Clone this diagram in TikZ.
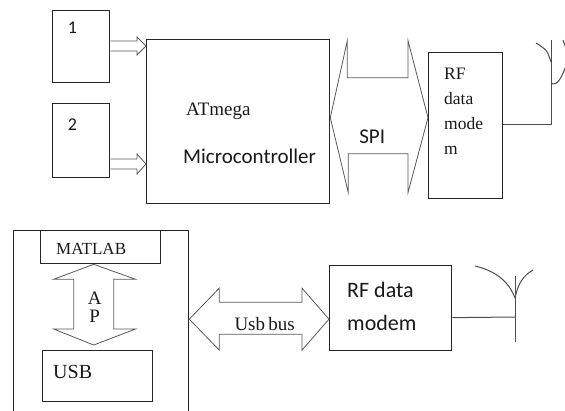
\documentclass[tikz,border=0pt]{standalone}
\usepackage{fontspec}
\setmainfont{Liberation Serif}
\newfontfamily\calibri{Carlito}
\usetikzlibrary{calc}
\tikzstyle{block} = [rectangle, draw=black!85, line width=1.3pt, anchor=north west, inner sep=0pt]
\tikzstyle{hollow} = [draw=black!65, line width=0.8pt, line join=miter]
\tikzstyle{wire} = [draw=black!70, line width=1pt]
\tikzstyle{txt} = [inner sep=0pt, text=black!90]

\begin{document}
\begin{tikzpicture}[x=1pt, y=-1pt]
	\clip (0,0) rectangle (565,410);

	% Upper board
	\node (in1) [block, minimum width=57pt, minimum height=72pt] at (52,10) {};
	\node (in2) [block, minimum width=57pt, minimum height=74pt] at (52,103) {};
	\node (micro) [block, minimum width=183pt, minimum height=164pt] at (146,39) {};
	\node (rf1) [block, minimum width=74pt, minimum height=146pt] at (428,52) {};

	\node (in1txt) [txt, anchor=base, font=\calibri\fontsize{18}{20}\selectfont] at (72.5,33) {1};
	\node (in2txt) [txt, anchor=base, font=\calibri\fontsize{18}{20}\selectfont] at (72.5,130) {2};
	\node (mcutxt) [txt, anchor=base west, font=\fontsize{19}{22}\selectfont] at (186,115) {ATmega};
	\node (mcutxt2) [txt, anchor=base west, font=\calibri\fontsize{21}{24}\selectfont] at (183,163) {Microcontroller};
	\node (rf1txt) [txt, anchor=north west, align=left, font=\fontsize{17.5}{25}\selectfont] at (444,68) {RF\\data\\mode\\m};

	% Input arrows
	\coordinate (a1s) at ([yshift=-36pt]in1.north east);
	\coordinate (a1t) at (micro.west |- a1s);
	\coordinate (a2s) at ([yshift=-61pt]in2.north east);
	\coordinate (a2t) at (micro.west |- a2s);
	\draw [hollow] ($(a1s)+(0,-5)$) -- ($(a1t)+(-9,-5)$) -- ($(a1t)+(-9,-9)$) -- (a1t) -- ($(a1t)+(-9,9)$) -- ($(a1t)+(-9,5)$) -- ($(a1s)+(0,5)$);
	\draw [hollow] ($(a2s)+(0,-5)$) -- ($(a2t)+(-9,-5)$) -- ($(a2t)+(-9,-10)$) -- (a2t) -- ($(a2t)+(-9,10)$) -- ($(a2t)+(-9,5)$) -- ($(a2s)+(0,5)$);

	% SPI
	\coordinate (spiL) at ([yshift=4pt]micro.east);
	\coordinate (spiR) at (rf1.west |- spiL);
	\draw [hollow] (spiL) -- ($(spiL)+(17,-77)$) -- ($(spiL)+(17,-40)$) -- ($(spiR)+(-20,-40)$) -- ($(spiR)+(-20,-77)$) -- (spiR) -- ($(spiR)+(-20,75)$) -- ($(spiR)+(-20,36)$) -- ($(spiL)+(18,36)$) -- ($(spiL)+(18,75)$) -- cycle;
	\node (spitxt) [txt, anchor=base, font=\calibri\fontsize{21}{24}\selectfont] at ($(spiL)!0.5!(spiR)+(-7,26)$) {SPI};

	% Antenna 1
	\coordinate (ant1) at (551,124);
	\draw [wire] (rf1.east |- ant1) -- (ant1) -- ++(0,-84);
	\draw [wire] (551,62) .. controls (547,50) .. (536,43);
	\draw [wire] (551,83) .. controls (557,87) and (562,78) .. (568,60);
	\draw [wire] (563,40) -- (567,51);

	% Lower board
	\node (pc) [block, minimum width=175pt, minimum height=190pt] at (13,230) {};
	\node (matlab) [block, minimum width=120pt, minimum height=33pt] at (40,230) {};
	\node (usb) [block, minimum width=110pt, minimum height=51pt] at (42,350) {};
	\node (rf2) [block, minimum width=122pt, minimum height=85pt] at (329,265) {};

	\node (mattxt) [txt, anchor=base west, font=\fontsize{17}{20}\selectfont] at (56,254) {MATLAB};
	\node (usbtxt) [txt, anchor=base west, font=\fontsize{20}{24}\selectfont] at (53,378) {USB};
	\node (rf2txt) [txt, anchor=north west, align=left, font=\calibri\fontsize{22}{33}\selectfont] at (347,282) {RF data\\modem};

	% AP
	\coordinate (apT) at ([xshift=-7pt]matlab.south);
	\coordinate (apB) at ($(apT |- usb.north)+(0,-5)$);
	\draw [hollow] (apT) -- ($(apT)+(42,15)$) -- ($(apT)+(20,15)$) -- ($(apB)+(20,-16)$) -- ($(apB)+(42,-16)$) -- (apB) -- ($(apB)+(-40,-16)$) -- ($(apB)+(-20,-16)$) -- ($(apT)+(-20,15)$) -- ($(apT)+(-40,15)$) -- cycle;
	\node (aptxt) [txt, anchor=north, align=center, font=\fontsize{19}{18.5}\selectfont] at ($(apT)+(1,27)$) {A\\P};

	% Usb bus
	\coordinate (ubR) at ([yshift=-11pt]rf2.west);
	\coordinate (ubL) at (pc.east |- ubR);
	\draw [hollow] (ubL) -- ($(ubL)+(30,-31)$) -- ($(ubL)+(30,-17)$) -- ($(ubR)+(-27,-17)$) -- ($(ubR)+(-27,-31)$) -- (ubR) -- ($(ubR)+(-27,31)$) -- ($(ubR)+(-27,15)$) -- ($(ubL)+(30,15)$) -- ($(ubL)+(30,31)$) -- cycle;
	\node (ubtxt) [txt, anchor=base west, font=\fontsize{19}{22}\selectfont] at ($(ubL)+(45,11)$) {Usb\,bus};

	% Antenna 2
	\coordinate (ant2) at (515,317);
	\draw [wire] ([yshift=-9.5pt]rf2.east) -- (ant2);
	\draw [wire] (515,276) -- (515,342);
	\draw [wire] (475,266) .. controls (500,272) and (510,285) .. (515,298);
	\draw [wire] (515,298) .. controls (518,283) and (524,275) .. (533,270);
\end{tikzpicture}
\end{document}
